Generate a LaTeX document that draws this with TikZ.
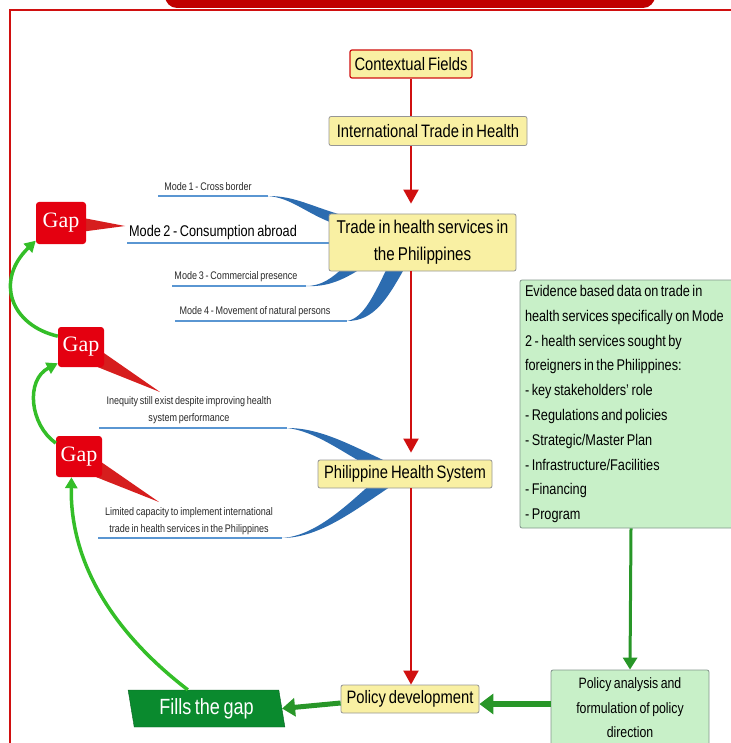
\documentclass[tikz,border=0pt]{standalone}
\usepackage{fontspec}
\setmainfont{Liberation Sans}[FakeStretch=0.82,WordSpace=0.72]
\newfontfamily\gapfont{Liberation Serif}
\usetikzlibrary{positioning,shapes.geometric,arrows.meta}
\pgfdeclarelayer{bg}
\pgfsetlayers{bg,main}

\definecolor{frameRed}{RGB}{208,16,16}
\definecolor{barRed}{RGB}{192,0,0}
\definecolor{topicYellow}{RGB}{249,240,163}
\definecolor{boxGray}{RGB}{150,150,150}
\definecolor{gapRed}{RGB}{228,0,16}
\definecolor{calloutRed}{RGB}{214,30,30}
\definecolor{branchBlue}{RGB}{44,108,176}
\definecolor{lineBlue}{RGB}{90,150,210}
\definecolor{noteGreen}{RGB}{200,240,200}
\definecolor{noteBorder}{RGB}{130,150,140}
\definecolor{loopGreen}{RGB}{52,190,40}
\definecolor{flowGreen}{RGB}{40,150,40}
\definecolor{fillGreen}{RGB}{10,138,46}
\definecolor{textGray}{RGB}{40,40,40}

\begin{document}
\begin{tikzpicture}[x=1pt, y=-1pt,
topic/.style={draw=boxGray, fill=topicYellow, rounded corners=2pt, line width=0.8pt, text=black, font=\fontsize{18}{27}\selectfont, inner sep=0pt, align=center},
gap/.style={fill=gapRed, rounded corners=3pt, text=white, font=\gapfont\fontsize{22}{24}\selectfont, inner sep=0pt},
modetext/.style={font=\fontsize{11}{17}\selectfont, text=textGray, inner sep=0pt, align=center},
notebox/.style={draw=noteBorder, fill=noteGreen, rounded corners=2pt, line width=0.8pt, text=black, font=\fontsize{15.5}{24.8}\selectfont, inner sep=0pt},
underline/.style={draw=lineBlue, line width=1.2pt},
branch/.style={fill=branchBlue},
callout/.style={fill=calloutRed},
redline/.style={color=frameRed, line width=1.2pt},
redarrow/.style={color=frameRed, line width=2pt, -{Triangle[length=14pt,width=15pt]}},
loop/.style={draw=loopGreen, line width=3.5pt, -{Triangle[length=11pt,width=12pt]}},
flowarrow/.style={draw=flowGreen, -{Triangle[length=12pt,width=14pt]}},
]
\useasboundingbox (0,0) rectangle (730,743);

%Frame
\fill[barRed, rounded corners=12pt] (165,-20) rectangle (655,8);
\draw[frameRed, line width=2pt] (10,760) -- (10,10) -- (750,10);

%Topic boxes
\node[topic, draw=frameRed, line width=1.2pt, minimum width=122pt, minimum height=28pt] (ctx) at (411,64) {Contextual Fields};
\node[topic, minimum width=198pt, minimum height=29pt] (ith) at (428,131) {International Trade in Health};
\node[topic, font=\fontsize{18.5}{27}\selectfont, minimum width=187pt, minimum height=57pt] (ths) at (422.5,242.5) {Trade in health services in\\the Philippines};
\node[topic, minimum width=174pt, minimum height=28pt] (phs) at (405,474) {Philippine Health System};
\node[topic, minimum width=138pt, minimum height=28pt] (pol) at (410,699) {Policy development};

%Evidence and policy analysis
\node[notebox, minimum width=222pt, minimum height=248pt, text width=212pt, align=left] (ev) at (631,404) {\spaceskip=0pt\xspaceskip=0pt Evidence based data on trade in\\health services specifically on Mode\\2 - health services sought by\\foreigners in the Philippines:\\- key stakeholders' role\\- Regulations and policies\\- Strategic/Master Plan\\- Infrastructure/Facilities\\- Financing\\- Program};
\node[notebox, font=\fontsize{15}{24.5}\selectfont, minimum width=158pt, minimum height=76pt, align=center] (pa) at (630,708) {Policy analysis and\\formulation of policy\\direction};
\node[trapezium, trapezium left angle=101, trapezium right angle=79, trapezium stretches=true, minimum width=157pt, minimum height=37pt, fill=fillGreen, draw=fillGreen!70!black, text=white, font=\fontsize{22}{24}\selectfont, inner sep=0pt] (fills) at (206.5,708.5) {Fills the gap};

%Gaps
\node[gap, minimum width=50pt, minimum height=42pt] (gap1) at (61,223) {Gap};
\node[gap, minimum width=46pt, minimum height=40pt] (gap2) at (81,347) {Gap};
\node[gap, minimum width=46pt, minimum height=41pt] (gap3) at (79,456.5) {Gap};

%Branch texts
\node[modetext] (m1) at (208,187) {Mode 1 - Cross border};
\node[modetext, text=black, font=\fontsize{15.5}{18}\selectfont] (m2) at (213,232) {Mode 2 - Consumption abroad};
\node[modetext] (m3) at (236,277) {Mode 3 - Commercial presence};
\node[modetext] (m4) at (255,312) {Mode 4 - Movement of natural persons};
\node[modetext] (ineq) at (189,410) {Inequity still exist despite improving health\\system performance};
\node[modetext] (lim) at (189,521) {Limited capacity to implement international\\trade in health services in the Philippines};

\coordinate (m1a) at (158,196); \coordinate (m1b) at (268,196);
\coordinate (m2a) at (127,243);
\coordinate (m3a) at (172,286); \coordinate (m3b) at (306,286);
\coordinate (m4a) at (175,321); \coordinate (m4b) at (347,321);
\coordinate (ineqa) at (99,428); \coordinate (ineqb) at (287,428);
\coordinate (lima) at (98,538); \coordinate (limb) at (282,538);
\coordinate (tip1) at (125,226);
\coordinate (tip2) at (160,392);
\coordinate (tip3) at (159,502);

\begin{pgfonlayer}{bg}
%Branches trade in health services
\draw[underline] (m1a) -- (m1b);
\fill[branch] (m1b) .. controls (295,196) and (310,206) .. (345,216) -- (335,224) .. controls (305,213) and (292,198) .. (m1b) -- cycle;
\draw[underline, line width=1.6pt] (m2a) -- (m2a -| ths.west);
\draw[underline] (m3a) -- (m3b);
\fill[branch] (m3b) .. controls (322,286) and (332,278) .. (345,266) -- (362,268) .. controls (340,282) and (325,287) .. (m3b) -- cycle;
\draw[underline] (m4a) -- (m4b);
\fill[branch] (m4b) .. controls (375,321) and (388,298) .. (408,262) -- (390,262) .. controls (374,295) and (364,318) .. (m4b) -- cycle;

%Branches health system
\draw[underline] (ineqa) -- (ineqb);
\fill[branch] (ineqb) .. controls (322,428) and (352,446) .. (394,465) -- (370,467) .. controls (342,452) and (315,431) .. (ineqb) -- cycle;
\draw[underline] (lima) -- (limb);
\fill[branch] (limb) .. controls (322,538) and (360,506) .. (396,483) -- (372,483) .. controls (346,506) and (315,536) .. (limb) -- cycle;

%Callouts
\fill[callout] (gap1.10) -- (tip1) -- (gap1.-18) -- cycle;
\fill[callout] (gap2.-15) -- (tip2) -- (gap2.-50) -- cycle;
\fill[callout] (gap3.-15) -- (tip3) -- (gap3.-50) -- cycle;
\end{pgfonlayer}

%Red spine
\draw[redline] (ctx.south) -- (ctx.south |- ith.north);
\draw[redarrow, shorten >=10pt] (ctx.south |- ith.south) -- (ctx.south |- ths.north);
\draw[redarrow, shorten >=7pt] (ctx.south |- ths.south) -- (ctx.south |- phs.north);
\draw[redarrow] (ctx.south |- phs.south) -- (ctx.south |- pol.north);

%Green flow
\draw[flowarrow, line width=3pt] (ev.south) -- (pa.north);
\draw[flowarrow, line width=6pt, -{Triangle[length=14pt,width=20pt]}] ([yshift=4pt]pa.west) -- ([yshift=-5pt]pol.east);
\draw[flowarrow, line width=5pt, -{Triangle[length=13pt,width=18pt]}] ([yshift=-4pt]pol.west) -- (fills.east);

%Gap loop
\draw[loop] (fills.135) .. controls (110,630) and (70,560) .. (gap3.-110);
\draw[loop] (gap3.150) .. controls (30,425) and (25,380) .. (gap2.215);
\draw[loop] (gap2.155) .. controls (10,325) and (-5,280) .. (gap1.215);
\end{tikzpicture}
\end{document}
